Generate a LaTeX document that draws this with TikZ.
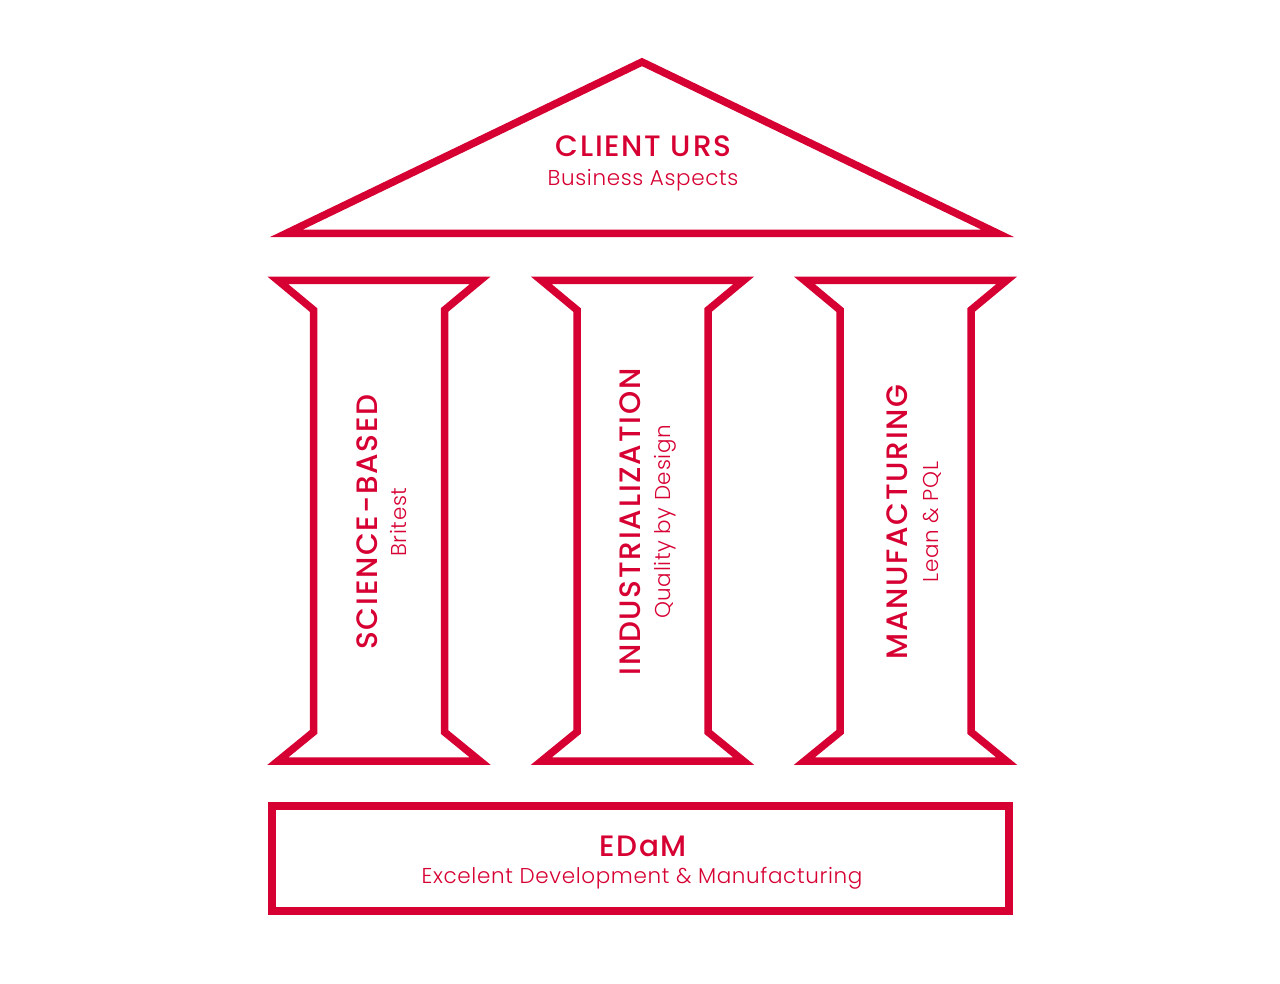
\documentclass[tikz,border=0pt]{standalone}
\usepackage{fontspec}
\setmainfont{Poppins}
\newfontfamily\titlefont{Poppins Medium}[LetterSpace=6]
\newfontfamily\subfont{Poppins Light}[LetterSpace=3]
\definecolor{edamred}{RGB}{214,0,50}
\tikzset{
  outline/.style={draw=edamred, line width=7.5pt, line join=miter},
  titletext/.style={text=edamred, font=\titlefont\fontsize{29.5}{31}\selectfont, inner sep=0pt, anchor=base},
  subtext/.style={text=edamred, font=\subfont\fontsize{21.5}{24}\selectfont, inner sep=0pt, anchor=base},
}
\begin{document}
\begin{tikzpicture}[x=1pt, y=-1pt]
\useasboundingbox (0,0) rectangle (1280,984);
% roof
\draw[outline] (286,233.5) -- (642,62) -- (998,233.5) -- cycle;
\node[titletext] (roofT) at (643.5,157) {CLIENT URS};
\node[subtext] (roofS) at (643,186) {Business Aspects};
% columns
\foreach \cx in {379,642.5,905.5}{
  \draw[outline] (\cx-101,280.5) -- (\cx+101,280.5) -- (\cx+65.5,310) -- (\cx+65.5,732)
    -- (\cx+101,761) -- (\cx-101,761) -- (\cx-65.5,732) -- (\cx-65.5,310) -- cycle;
}
\node[titletext, rotate=90] (c1T) at (377,522) {SCIENCE-BASED};
\node[subtext, rotate=90] (c1S) at (406,522) {Britest};
\node[titletext, rotate=90] (c2T) at (640,522) {INDUSTRIALIZATION};
\node[subtext, rotate=90] (c2S) at (670,522) {Quality by Design};
\node[titletext, rotate=90] (c3T) at (907,522) {MANUFACTURING};
\node[subtext, rotate=90] (c3S) at (938,522) {Lean \& PQL};
% base
\draw[outline] (272,806) rectangle (1009,911);
\node[titletext] (baseT) at (643,856) {EDaM};
\node[subtext] (baseS) at (642,883) {Excelent Development \& Manufacturing};
\end{tikzpicture}
\end{document}
